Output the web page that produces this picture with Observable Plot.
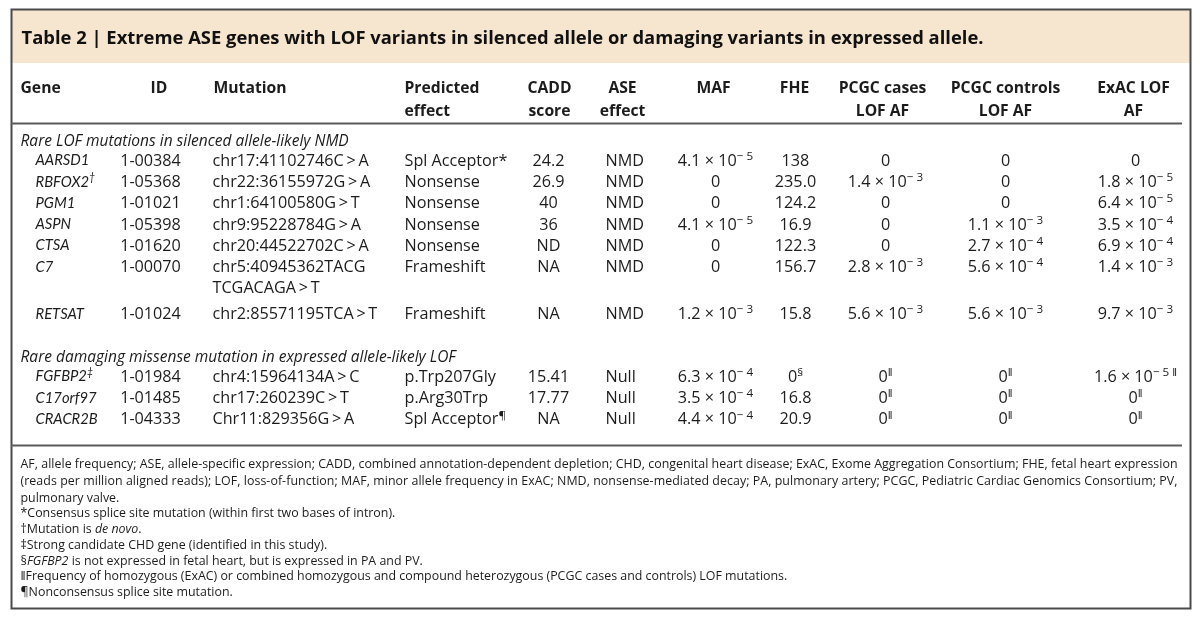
<!DOCTYPE html>
<html><head><meta charset="utf-8">
<script src="https://cdn.jsdelivr.net/npm/d3@7"></script>
<script src="https://cdn.jsdelivr.net/npm/@observablehq/plot@0.6"></script>
<style>body{margin:0;background:#fff} svg text{filter:grayscale(1)}</style>
</head><body><div id="chart"></div>
<script>
// ---------------- DATA ----------------
const title = "Table 2 | Extreme ASE genes with LOF variants in silenced allele or damaging variants in expressed allele.";
const headers = [["Gene"],["ID"],["Mutation"],["Predicted","effect"],["CADD","score"],["ASE","effect"],["MAF"],["FHE"],["PCGC cases","LOF AF"],["PCGC controls","LOF AF"],["ExAC LOF","AF"]];
const sections = ["Rare LOF mutations in silenced allele-likely NMD", "Rare damaging missense mutation in expressed allele-likely LOF"];
const rowSection = [0,0,0,0,0,0,0,1,1,1];
const genes = ["AARSD1","RBFOX2^{†}","PGM1","ASPN","CTSA","C7","RETSAT","FGFBP2^{‡}","C17orf97","CRACR2B"];
const ids = ["1-00384","1-05368","1-01021","1-05398","1-01620","1-00070","1-01024","1-01984","1-01485","1-04333"];
const mutations = ["chr17:41102746C\u2009>\u2009A","chr22:36155972G\u2009>\u2009A","chr1:64100580G\u2009>\u2009T","chr9:95228784G\u2009>\u2009A","chr20:44522702C\u2009>\u2009A","chr5:40945362TACG\nTCGACAGA\u2009>\u2009T","chr2:85571195TCA\u2009>\u2009T","chr4:15964134A\u2009>\u2009C","chr17:260239C\u2009>\u2009T","Chr11:829356G\u2009>\u2009A"];
const effects = ["Spl Acceptor*","Nonsense","Nonsense","Nonsense","Nonsense","Frameshift","Frameshift","p.Trp207Gly","p.Arg30Trp","Spl Acceptor^{¶}"];
const cadd = ["24.2","26.9","40","36","ND","NA","NA","15.41","17.77","NA"];
const aseEffect = ["NMD","NMD","NMD","NMD","NMD","NMD","NMD","Null","Null","Null"];
const maf = ["4.1 × 10^{− 5}","0","0","4.1 × 10^{− 5}","0","0","1.2 × 10^{− 3}","6.3 × 10^{− 4}","3.5 × 10^{− 4}","4.4 × 10^{− 4}"];
const fhe = ["138","235.0","124.2","16.9","122.3","156.7","15.8","0^{§}","16.8","20.9"];
const pcgcCases = ["0","1.4 × 10^{− 3}","0","0","0","2.8 × 10^{− 3}","5.6 × 10^{− 3}","0^{‖}","0^{‖}","0^{‖}"];
const pcgcControls = ["0","0","0","1.1 × 10^{− 3}","2.7 × 10^{− 4}","5.6 × 10^{− 4}","5.6 × 10^{− 3}","0^{‖}","0^{‖}","0^{‖}"];
const exacLof = ["0","1.8 × 10^{− 5}","6.4 × 10^{− 5}","3.5 × 10^{− 4}","6.9 × 10^{− 4}","1.4 × 10^{− 3}","9.7 × 10^{− 3}","1.6 × 10^{− 5 ‖}","0^{‖}","0^{‖}"];
const footnotes = [
  "AF, allele frequency; ASE, allele-specific expression; CADD, combined annotation-dependent depletion; CHD, congenital heart disease; ExAC, Exome Aggregation Consortium; FHE, fetal heart expression",
  "(reads per million aligned reads); LOF, loss-of-function; MAF, minor allele frequency in ExAC; NMD, nonsense-mediated decay; PA, pulmonary artery; PCGC, Pediatric Cardiac Genomics Consortium; PV,",
  "pulmonary valve.",
  "*Consensus splice site mutation (within first two bases of intron).",
  "†Mutation is ~{de novo}.",
  "‡Strong candidate CHD gene (identified in this study).",
  "§~{FGFBP2} is not expressed in fetal heart, but is expressed in PA and PV.",
  "‖Frequency of homozygous (ExAC) or combined homozygous and compound heterozygous (PCGC cases and controls) LOF mutations.",
  "¶Nonconsensus splice site mutation."
];

// ---------------- LAYOUT ----------------
const W = 1200, H = 623;
const frame = {left: 11, right: 1190, top: 9, bottom: 608};
const bandBottom = 63;
const titleY = 38, titleX = 21;
const headY1 = 87, headY2 = 110, headRule = 123, footRule = 445;
const bodyFont = 16.2, headFont = 15.7, titleFont = 18.4, footFont = 12.4, italicFont = 15.5, geneFont = 14.8;
const rowStep = 21.3;
const firstSectionY = 140.5, sectionToRow = 19.5, sectionGap = 43, wrapExtra = 4.5;
const footY0 = 464, footStep = [0,17,16.2,15.5,15.8,15.8,15.8,15.8,15.6];
const justifyTo = 1177;
const sans = "'Open Sans', sans-serif";
const italicSans = "Lato, sans-serif";
const ink = "#1c1c1c";
const cols = [
  {vals: genes, x: 35, anchor: "start", italic: true},
  {vals: ids, x: 150, anchor: "middle"},
  {vals: mutations, x: 212, anchor: "start"},
  {vals: effects, x: 404, anchor: "start"},
  {vals: cadd, x: 548, anchor: "middle"},
  {vals: aseEffect, x: 605, anchor: "start"},
  {vals: maf, x: 715, anchor: "middle"},
  {vals: fhe, x: 795, anchor: "middle"},
  {vals: pcgcCases, x: 885, anchor: "middle"},
  {vals: pcgcControls, x: 1005, anchor: "middle"},
  {vals: exacLof, x: 1135, anchor: "middle"}
];
const headCols = [
  {x: 20, anchor: "start"}, {x: 150, anchor: "start"}, {x: 213, anchor: "start"}, {x: 404, anchor: "start"},
  {x: 549, anchor: "middle"}, {x: 622, anchor: "middle"}, {x: 713, anchor: "middle"}, {x: 794, anchor: "middle"},
  {x: 882, anchor: "middle"}, {x: 1005, anchor: "middle"}, {x: 1133, anchor: "middle"}
];

// row positions
const rowY = [], sectionY = [];
let yc = firstSectionY, prevSec = -1;
genes.forEach((g, i) => {
  if (rowSection[i] !== prevSec) {
    if (prevSec >= 0) yc += sectionGap;
    sectionY.push(yc);
    yc += sectionToRow;
    prevSec = rowSection[i];
  } else {
    const lines = mutations[i-1].split("\n").length;
    yc += rowStep * lines + (lines > 1 ? wrapExtra : 0);
  }
  rowY.push(yc);
});

// cells (wrapped lines become separate cells one row step apart)
const cells = [];
cols.forEach((c, ci) => c.vals.forEach((v, ri) => v.split("\n").forEach((line, li) =>
  cells.push({ci, x: c.x, y: rowY[ri] + li * rowStep, text: line, anchor: c.anchor, italic: !!c.italic}))));
const headCells = [];
headers.forEach((h, ci) => h.forEach((t, li) => headCells.push({x: headCols[ci].x, y: li ? headY2 : headY1, text: t, anchor: headCols[ci].anchor})));
const secCells = sections.map((s, i) => ({x: 20, y: sectionY[i], text: s}));
let fy = footY0;
const footCells = footnotes.map((f, i) => { fy += i ? footStep[i] : 0; return {x: 20, y: fy, text: f, i}; });

const textMark = (data, opts) => Plot.text(data, {x: "x", y: "y", text: "text", fill: ink, fontFamily: sans, ...opts});

const chart = Plot.plot({
  width: W, height: H,
  marginTop: frame.top, marginLeft: frame.left, marginRight: W - frame.right, marginBottom: H - frame.bottom,
  x: {type: "identity", axis: null}, y: {type: "identity", axis: null},
  style: {background: "#fff"},
  marks: [
    Plot.rect([0], {x1: () => frame.left, x2: () => frame.right, y1: () => frame.top, y2: () => bandBottom, fill: "#f6e5cf"}),
    Plot.frame({stroke: "#4a4a4a", strokeWidth: 2}),
    Plot.ruleY([headRule], {x1: frame.left, x2: frame.right - 8, stroke: "#5a5a5a", strokeWidth: 2}),
    Plot.ruleY([footRule], {x1: frame.left, x2: frame.right - 8, stroke: "#5a5a5a", strokeWidth: 2}),
    textMark([{x: titleX, y: titleY, text: title}], {textAnchor: "start", fontSize: titleFont, fontWeight: "bold", fill: "#111"}),
    textMark(headCells.filter(d => d.anchor === "start"), {textAnchor: "start", fontSize: headFont, fontWeight: "bold"}),
    textMark(headCells.filter(d => d.anchor === "middle"), {textAnchor: "middle", fontSize: headFont, fontWeight: "bold"}),
    textMark(secCells, {textAnchor: "start", fontSize: italicFont, fontStyle: "italic"}),
    textMark(cells.filter(d => d.italic), {textAnchor: "start", fontSize: geneFont, fontStyle: "italic", fontFamily: italicSans}),
    textMark(cells.filter(d => !d.italic && d.anchor === "start"), {textAnchor: "start", fontSize: bodyFont}),
    textMark(cells.filter(d => d.anchor === "middle"), {textAnchor: "middle", fontSize: bodyFont}),
    textMark(footCells, {textAnchor: "start", fontSize: footFont, className: "foot"})
  ]
});
document.getElementById("chart").appendChild(chart);

// rich text: ^{..} superscript, ~{..} italic
function richify(el) {
  const s = el.textContent;
  if (!/[\^~]\{/.test(s)) return;
  const fs = parseFloat(getComputedStyle(el).fontSize) || bodyFont;
  const parts = [];
  const re = /([\^~])\{([^}]*)\}/g;
  let last = 0, m;
  while ((m = re.exec(s))) {
    if (m.index > last) parts.push({t: s.slice(last, m.index), k: ""});
    parts.push({t: m[2], k: m[1]});
    last = re.lastIndex;
  }
  if (last < s.length) parts.push({t: s.slice(last), k: ""});
  el.textContent = "";
  let shifted = 0;
  for (const p of parts) {
    const ts = document.createElementNS("http://www.w3.org/2000/svg", "tspan");
    ts.textContent = p.t;
    const target = p.k === "^" ? -0.36 * fs : 0;
    if (target !== shifted) { ts.setAttribute("dy", target - shifted); shifted = target; }
    if (p.k === "^") ts.setAttribute("font-size", (0.72 * fs).toFixed(2));
    if (p.k === "~") { ts.setAttribute("font-style", "italic"); }
    el.appendChild(ts);
  }
}
chart.querySelectorAll("text").forEach(t => { if (!t.querySelector("tspan")) richify(t); });
// justify the first two footnote lines
const footTexts = chart.querySelectorAll(".foot text");
[0, 1].forEach(i => {
  const t = footTexts[i];
  if (t) { t.setAttribute("textLength", justifyTo - 20); t.setAttribute("lengthAdjust", "spacing"); }
});
</script>
</body></html>
